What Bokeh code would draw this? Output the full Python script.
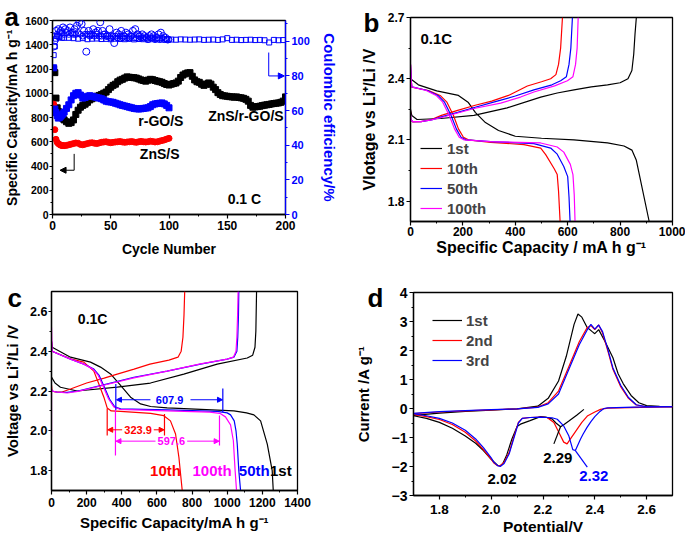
from bokeh.plotting import figure
from bokeh.layouts import column
from bokeh.models import (Range1d, LinearAxis, FixedTicker, Arrow, NormalHead, Legend,
                          LegendItem, ColumnDataSource, GridBox, PrintfTickFormatter)
from bokeh.core.properties import value
from bokeh.embed import file_html
from bokeh.resources import INLINE

FONT = "Liberation Sans"
BLK, RED, BLU, MAG = "#000000", "#ff0000", "#0000ff", "#ff00ff"

# ---------------- panel a data ----------------
a_cyc_long = list(range(1, 11)) + list(range(12, 201, 2))
a_znsrgo = [1200, 1170, 960, 880, 850, 825, 810, 800, 790, 780,
            765, 752, 758, 780, 825, 860, 885, 900, 910, 925,
            945, 955, 965, 975, 982, 990, 1000, 1010, 1030, 1050,
            1065, 1075, 1095, 1108, 1115, 1125, 1135, 1132, 1130, 1128,
            1125, 1118, 1110, 1105, 1100, 1108, 1115, 1112, 1105, 1100,
            1095, 1090, 1080, 1072, 1068, 1075, 1080, 1085, 1100, 1130,
            1150, 1160, 1168, 1170, 1140, 1110, 1095, 1090, 1075, 1065,
            1075, 1085, 1075, 1050, 1030, 1005, 990, 980, 978, 975,
            972, 970, 968, 970, 965, 962, 958, 950, 935, 900,
            885, 888, 890, 893, 898, 902, 905, 908, 912, 915,
            918, 920, 925, 935, 970]
a_cyc_short = list(range(1, 11)) + list(range(12, 101, 2))
a_rgo = [1210, 870, 840, 815, 795, 800, 810, 820, 830, 845,
         875, 905, 945, 980, 1000, 1005, 985, 960, 965, 975,
         980, 975, 970, 965, 960, 955, 945, 935, 930, 928,
         925, 918, 912, 905, 900, 895, 890, 885, 880, 875,
         872, 870, 872, 875, 878, 880, 890, 905, 912, 915,
         918, 920, 912, 900, 880]
a_zns = [910, 700, 620, 595, 585, 578, 572, 570, 568, 568,
         570, 575, 580, 585, 590, 588, 578, 575, 580, 585,
         590, 592, 588, 585, 590, 595, 598, 600, 595, 592,
         595, 598, 600, 602, 598, 595, 598, 600, 602, 598,
         595, 600, 603, 600, 598, 600, 605, 602, 598, 600,
         605, 610, 615, 622, 628]
a_ce_sq_cyc = [1, 2, 3, 4, 5, 6, 8, 10] + list(range(14, 201, 4))
a_ce_sq = [92, 97, 101.5, 103, 103, 102.5, 102, 102,
           102, 101.8, 101.5, 101.8, 101.2, 101.5, 101.6, 101.3, 101.4, 101.2,
           101.5, 101.3, 101.2, 101.4, 101.1, 101.3, 101.2, 101.0, 101.2, 101.1,
           101.0, 101.2, 101.0, 100.9, 101.1, 101.0, 100.9, 101.0, 101.1, 100.8,
           100.9, 101.0, 100.8, 101.1, 101.8, 100.8, 100.9, 100.7, 100.8, 100.9,
           100.7, 100.8, 100.6, 99.3, 100.8, 100.6, 100.7]
a_ce_c1_cyc = list(range(1, 100, 2))
a_ce_c1 = [97, 106, 107, 106, 108, 107, 106, 108, 105, 107,
           109, 111, 110, 106, 94, 106, 104, 107, 105, 106,
           111, 106, 104, 103, 107, 103, 99, 105, 104, 106,
           103, 105, 104, 103, 106, 107, 104, 103, 104, 103,
           102, 103, 104, 103, 102, 104, 105, 103, 102, 101]
a_ce_c2_cyc = list(range(2, 101, 2))
a_ce_c2 = [100, 104, 105, 105, 104, 105, 104, 105, 104, 104,
           105, 104, 103, 104, 104, 103, 104, 103, 104, 103,
           103, 104, 103, 103, 102, 103, 103, 102, 103, 102,
           103, 102, 102, 103, 102, 102, 103, 102, 102, 102,
           101, 102, 102, 101, 102, 101, 102, 101, 101, 101]
a_lab_x = [93, 92, 166, 164.7]
a_lab_y = [771, 497, 812, 126]
a_lab_t = ["r-GO/S", "ZnS/S", "ZnS/r-GO/S", "0.1 C"]
a_arrk = dict(x=[18.6], ytop=[500], ybot=[365], xend=[6.5])
a_arrb = dict(x=[185.6], ytop=[93.5], ybot=[80], xend=[199])

# ---------------- panel b data ----------------
b1_dis_x = [0, 30, 100, 183, 221, 248, 286, 336, 400, 500, 624, 752, 815, 845, 862, 911]
b1_dis_y = [2.40, 2.37, 2.34, 2.318, 2.283, 2.234, 2.185, 2.146, 2.118, 2.108, 2.10, 2.085, 2.07, 2.05, 2.0, 1.70]
b1_chg_x = [0, 5, 25, 115, 242, 369, 497, 560, 624, 690, 752, 800, 830, 845, 852, 857, 862]
b1_chg_y = [2.25, 2.22, 2.20, 2.205, 2.22, 2.257, 2.31, 2.33, 2.345, 2.36, 2.37, 2.38, 2.40, 2.44, 2.52, 2.62, 2.70]
b10_dis_x = [0, 3, 5, 69, 113, 139, 164, 183, 202, 221, 306, 433, 497, 516, 548, 560, 565, 571]
b10_dis_y = [2.47, 2.39, 2.358, 2.342, 2.318, 2.285, 2.22, 2.154, 2.113, 2.10, 2.088, 2.077, 2.06, 2.028, 1.96, 1.93, 1.85, 1.70]
b50_dis_x = [0, 3, 5, 65, 105, 130, 155, 175, 193, 212, 306, 471, 535, 560, 585, 600, 605, 609]
b50_dis_y = [2.47, 2.39, 2.36, 2.342, 2.318, 2.285, 2.22, 2.154, 2.113, 2.10, 2.092, 2.082, 2.06, 2.03, 1.97, 1.92, 1.82, 1.70]
b100_dis_x = [0, 3, 5, 60, 98, 123, 148, 168, 186, 205, 306, 497, 560, 585, 610, 620, 625, 628]
b100_dis_y = [2.47, 2.39, 2.36, 2.342, 2.318, 2.285, 2.22, 2.154, 2.113, 2.10, 2.092, 2.085, 2.065, 2.04, 1.98, 1.93, 1.83, 1.70]
b10_chg_x = [0, 1, 8, 40, 80, 118, 180, 247, 310, 374, 446, 500, 535, 555, 565, 573, 580]
b10_chg_y = [2.24, 2.20, 2.188, 2.19, 2.20, 2.22, 2.245, 2.27, 2.29, 2.318, 2.364, 2.385, 2.40, 2.42, 2.47, 2.55, 2.70]
b50_chg_x = [0, 1, 8, 40, 80, 118, 180, 247, 331, 400, 471, 540, 573, 595, 605, 612, 618]
b50_chg_y = [2.23, 2.20, 2.19, 2.19, 2.198, 2.213, 2.235, 2.26, 2.29, 2.315, 2.345, 2.37, 2.39, 2.41, 2.47, 2.55, 2.70]
b100_chg_x = [0, 1, 8, 40, 80, 118, 180, 247, 344, 420, 471, 550, 599, 620, 630, 636, 640]
b100_chg_y = [2.22, 2.20, 2.19, 2.19, 2.198, 2.21, 2.232, 2.255, 2.28, 2.31, 2.335, 2.365, 2.39, 2.41, 2.47, 2.55, 2.70]
b_legend = ["1st", "10th", "50th", "100th"]

# ---------------- panel c data ----------------
c1_dis_x = [0, 4, 108, 222, 279, 336, 393, 450, 507, 564, 658, 850, 1038, 1110, 1152, 1190, 1228, 1256, 1262]
c1_dis_y = [2.45, 2.42, 2.37, 2.345, 2.32, 2.286, 2.228, 2.169, 2.135, 2.122, 2.115, 2.108, 2.10, 2.09, 2.08, 2.05, 1.933, 1.80, 1.70]
c1_chg_x = [0, 20, 51, 146, 374, 563, 753, 943, 1114, 1145, 1158, 1163, 1167]
c1_chg_y = [2.27, 2.24, 2.219, 2.20, 2.219, 2.24, 2.285, 2.335, 2.366, 2.38, 2.42, 2.50, 2.70]
c10_dis_x = [0, 3, 108, 184, 241, 269, 298, 317, 340, 393, 564, 639, 677, 706, 725, 744]
c10_dis_y = [2.45, 2.40, 2.362, 2.345, 2.30, 2.236, 2.169, 2.115, 2.10, 2.098, 2.088, 2.076, 2.05, 1.984, 1.867, 1.70]
c10_chg_x = [0, 3, 20, 60, 108, 200, 300, 374, 470, 560, 668, 720, 738, 748, 754, 758]
c10_chg_y = [2.23, 2.20, 2.195, 2.195, 2.21, 2.24, 2.265, 2.285, 2.31, 2.335, 2.355, 2.37, 2.40, 2.47, 2.58, 2.70]
c50_dis_x = [0, 3, 108, 184, 241, 270, 298, 330, 360, 393, 658, 943, 1000, 1019, 1040, 1050, 1057, 1066, 1076]
c50_dis_y = [2.45, 2.40, 2.36, 2.335, 2.31, 2.28, 2.225, 2.16, 2.12, 2.11, 2.105, 2.098, 2.09, 2.08, 2.05, 2.0, 1.934, 1.80, 1.70]
c100_dis_x = [0, 3, 108, 184, 236, 265, 293, 325, 355, 388, 658, 900, 958, 990, 1019, 1035, 1045, 1053]
c100_dis_y = [2.52, 2.40, 2.36, 2.335, 2.31, 2.28, 2.225, 2.16, 2.12, 2.108, 2.10, 2.094, 2.088, 2.07, 2.03, 1.95, 1.80, 1.70]
c50_chg_x = [0, 2, 30, 89, 150, 279, 469, 658, 848, 1000, 1038, 1055, 1060, 1064, 1066]
c50_chg_y = [2.21, 2.20, 2.195, 2.193, 2.20, 2.227, 2.269, 2.30, 2.335, 2.36, 2.37, 2.40, 2.47, 2.58, 2.70]
c100_chg_x = [0, 0, 2, 30, 89, 150, 279, 469, 658, 848, 1000, 1035, 1050, 1055, 1059, 1062]
c100_chg_y = [1.97, 2.21, 2.20, 2.195, 2.19, 2.198, 2.225, 2.266, 2.30, 2.336, 2.36, 2.37, 2.40, 2.47, 2.58, 2.70]
c_bar_blu = dict(x=[366, 975], y0=[2.235, 2.213], y1=[2.105, 2.094])
c_bar_red = dict(x=[317, 643], y0=[2.112, 2.085], y1=[1.976, 1.976])
c_bar_mag = dict(x=[364, 956], y0=[2.105, 2.077], y1=[1.876, 1.926])
c_arr_blu = dict(x0=[563, 791], x1=[370, 973], y=[2.156, 2.156])
c_arr_red = dict(x0=[402, 582], x1=[320, 641], y=[2.005, 2.005])
c_arr_mag = dict(x0=[592, 772], x1=[367, 954], y=[1.948, 1.948])
c_num = dict(x=[672, 493, 682], y=[2.156, 2.005, 1.948], t=["607.9", "323.9", "597.6"], c=[BLU, RED, MAG])
c_lab = dict(x=[649, 914, 1154, 1305], y=[1.80, 1.80, 1.80, 1.80], t=["10th", "100th", "50th", "1st"], c=[RED, MAG, BLU, BLK])

# ---------------- panel d data ----------------
d1_an_x = [1.70, 1.80, 1.90, 2.00, 2.10, 2.18, 2.22, 2.26, 2.29, 2.32, 2.335, 2.35, 2.37, 2.39, 2.40, 2.415, 2.44, 2.47, 2.49, 2.51, 2.54, 2.57, 2.60, 2.65, 2.70]
d1_an_y = [-0.24, -0.16, -0.1, -0.06, -0.01, 0.08, 0.35, 0.95, 1.8, 2.9, 3.26, 3.15, 2.8, 2.65, 2.58, 2.72, 2.3, 1.75, 1.2, 0.85, 0.45, 0.2, 0.1, 0.07, 0.06]
d23_an_x = [1.70, 1.80, 1.90, 2.00, 2.10, 2.18, 2.22, 2.26, 2.30, 2.34, 2.37, 2.385, 2.40, 2.415, 2.43, 2.45, 2.47, 2.50, 2.53, 2.56, 2.60, 2.70]
d2_an_y = [-0.18, -0.12, -0.08, -0.05, -0.01, 0.05, 0.2, 0.6, 1.45, 2.3, 2.78, 2.86, 2.72, 2.88, 2.6, 2.0, 1.35, 0.75, 0.35, 0.12, 0.06, 0.06]
d3_an_y = [-0.17, -0.11, -0.07, -0.04, -0.01, 0.04, 0.16, 0.5, 1.35, 2.2, 2.7, 2.9, 2.74, 2.88, 2.65, 2.05, 1.4, 0.8, 0.38, 0.13, 0.06, 0.06]
d1_ca_x = [2.358, 2.33, 2.30, 2.28, 2.268, 2.25, 2.235, 2.21, 2.19, 2.15, 2.113, 2.10, 2.08, 2.06, 2.045, 2.035, 2.025, 2.00, 1.97, 1.94, 1.90, 1.85, 1.80, 1.75, 1.70]
d1_ca_y = [-0.03, -0.23, -0.43, -0.56, -0.63, -0.5, -0.36, -0.3, -0.28, -0.42, -0.54, -0.62, -1.05, -1.6, -1.9, -1.97, -1.96, -1.75, -1.45, -1.2, -0.95, -0.68, -0.48, -0.34, -0.25]
d2_ca_x = [2.70, 2.576, 2.45, 2.422, 2.40, 2.371, 2.35, 2.332, 2.306, 2.293, 2.28, 2.261, 2.242, 2.216, 2.19, 2.15, 2.12, 2.105, 2.09, 2.07, 2.05, 2.035, 2.025, 2.01, 2.00, 1.97, 1.94, 1.90, 1.85, 1.80, 1.75, 1.70]
d2_ca_y = [0.06, 0.04, 0.01, -0.03, -0.12, -0.26, -0.48, -0.71, -1.05, -1.22, -1.16, -0.82, -0.48, -0.31, -0.3, -0.31, -0.34, -0.48, -0.9, -1.5, -1.85, -1.97, -1.97, -1.88, -1.75, -1.42, -1.12, -0.82, -0.55, -0.38, -0.28, -0.2]
d3_ca_x = [2.70, 2.55, 2.45, 2.435, 2.42, 2.40, 2.385, 2.37, 2.355, 2.345, 2.335, 2.325, 2.315, 2.30, 2.28, 2.255, 2.235, 2.216, 2.19, 2.15, 2.12, 2.105, 2.09, 2.07, 2.05, 2.035, 2.025, 2.01, 2.00, 1.97, 1.94, 1.90, 1.85, 1.80, 1.75, 1.70]
d3_ca_y = [0.06, 0.05, 0.02, 0.0, -0.1, -0.28, -0.45, -0.65, -0.88, -1.05, -1.25, -1.45, -1.42, -0.95, -0.6, -0.37, -0.32, -0.31, -0.3, -0.31, -0.34, -0.5, -0.95, -1.55, -1.9, -2.0, -1.97, -1.85, -1.7, -1.35, -1.05, -0.75, -0.5, -0.34, -0.25, -0.18]
d_ptr = dict(x0=[2.242, 2.325], y0=[-1.22, -1.45], x1=[2.268, 2.371], y1=[-0.62, -2.02], c=[BLK, BLU])
d_num = dict(x=[2.042, 2.257, 2.396], y=[-2.43, -1.69, -2.32], t=["2.02", "2.29", "2.32"], c=[BLK, BLK, BLU])
d_legend = ["1st", "2nd", "3rd"]

# panel letters (page pixel position of each letter's left end / baseline)
let_t = ["a", "b", "c", "d"]
let_x = [4, 363, 7, 367]
let_y = [16, 22, 297, 297]


def unalign(p):
    if "frame_align" in p.properties():
        p.frame_align = False
    return p


def mkfig(w, h, xr, yr, ml, mr, mt, mb):
    p = figure(width=w, height=h, x_range=Range1d(*xr), y_range=Range1d(*yr),
               output_backend="svg", toolbar_location=None,
               min_border_left=ml, min_border_right=mr,
               min_border_top=mt, min_border_bottom=mb)
    p.xgrid.visible = False
    p.ygrid.visible = False
    p.outline_line_color = "black"
    p.outline_line_width = 1.3
    p.outline_line_alpha = 1
    return unalign(p)


def style_axis(ax, ticks, minor, tsize, lsize, tstand, lstand, color=BLK, fmt=None, tout=4):
    ax.ticker = FixedTicker(ticks=ticks, minor_ticks=minor)
    if fmt:
        ax.formatter = PrintfTickFormatter(format=fmt)
    ax.major_label_text_font = FONT
    ax.major_label_text_font_style = "bold"
    ax.major_label_text_font_size = tsize
    ax.major_label_text_color = color
    ax.axis_label_text_font = FONT
    ax.axis_label_text_font_style = "bold"
    ax.axis_label_text_font_size = lsize
    ax.axis_label_text_color = color
    ax.axis_line_color = color
    ax.axis_line_width = 1.3
    ax.major_tick_line_color = color
    ax.minor_tick_line_color = color
    ax.major_tick_line_width = 1.2
    ax.minor_tick_line_width = 1
    ax.major_tick_out = tout
    ax.major_tick_in = 0
    ax.minor_tick_out = 2
    ax.minor_tick_in = 0
    ax.major_label_standoff = tstand
    ax.axis_label_standoff = lstand


def texts(p, src, size, align="center", baseline="middle", **kw):
    p.text(x="x", y="y", text="t", source=ColumnDataSource(src), text_color="c",
           text_font=value(FONT), text_font_style="bold", text_font_size=value(size),
           text_align=align, text_baseline=baseline, **kw)


def fr(lo, step, n):
    return [round(lo + i * step, 4) for i in range(n)]

# ================= panel a =================
pa = mkfig(340, 270, (0, 200), (0, 1600), 52, 52, 20, 56)
pa.extra_y_ranges = {"ce": Range1d(0, 112)}
pa.xaxis.axis_label = "Cycle Number"
pa.yaxis.axis_label = "Specific Capacity/mA h g\u207b\u00b9"
style_axis(pa.xaxis[0], fr(0, 50, 5), fr(25, 50, 4), "12px", "14px", 2, 8)
style_axis(pa.yaxis[0], fr(0, 200, 9), fr(100, 200, 8), "10.5px", "14px", 1, 2, tout=3)
ra = LinearAxis(y_range_name="ce", axis_label="Coulombic efficiency/%")
pa.add_layout(ra, "right")
style_axis(ra, fr(0, 20, 6), fr(10, 20, 6), "11px", "15px", 2, 8, color=BLU)

pa.scatter(a_cyc_long, a_znsrgo, marker="square", size=6, color=BLK)
pa.scatter(a_cyc_short, a_zns, marker="circle", size=6, color=RED)
pa.scatter(a_cyc_short, a_rgo, marker="square", size=6, color=BLU)
pa.scatter(a_ce_sq_cyc, a_ce_sq, marker="square", size=5, fill_color=None, line_color=BLU, line_width=1, y_range_name="ce")
pa.scatter(a_ce_c2_cyc, a_ce_c2, marker="circle", size=6, fill_color=None, line_color=BLU, line_width=1, y_range_name="ce")
pa.scatter(a_ce_c1_cyc, a_ce_c1, marker="circle", size=7, fill_color=None, line_color=BLU, line_width=1, y_range_name="ce")
pa.segment(x0=a_arrk["x"], y0=a_arrk["ytop"], x1=a_arrk["x"], y1=a_arrk["ybot"], line_color=BLK, line_width=1)
pa.add_layout(Arrow(end=NormalHead(size=6, fill_color=BLK, line_color=BLK),
                    x_start=a_arrk["x"][0], y_start=a_arrk["ybot"][0],
                    x_end=a_arrk["xend"][0], y_end=a_arrk["ybot"][0], line_color=BLK, line_width=1))
pa.segment(x0=a_arrb["x"], y0=a_arrb["ytop"], x1=a_arrb["x"], y1=a_arrb["ybot"], line_color=BLU, line_width=1, y_range_name="ce")
pa.add_layout(Arrow(end=NormalHead(size=6, fill_color=BLU, line_color=BLU),
                    x_start=a_arrb["x"][0], y_start=a_arrb["ybot"][0],
                    x_end=a_arrb["xend"][0], y_end=a_arrb["ybot"][0], line_color=BLU, line_width=1,
                    y_range_name="ce"))
texts(pa, dict(x=a_lab_x, y=a_lab_y, t=a_lab_t, c=[BLK] * 4), "14px")

# ================= panel b =================
pb = mkfig(345, 270, (0, 1000), (1.7, 2.7), 70, 13, 17, 49)
pb.xaxis.axis_label = "Specific Capacity / mA h g\u207b\u00b9"
pb.yaxis.axis_label = "Vlotage vs Li\u207a/Li /V"
style_axis(pb.xaxis[0], fr(0, 200, 6), fr(100, 200, 5), "12px", "16px", 1, 0)
style_axis(pb.yaxis[0], [1.8, 2.1, 2.4, 2.7], [1.95, 2.25, 2.55], "12px", "16px", 2, 7, fmt="%.1f")
rb = []
for xs, ys, xc, yc, col in [(b1_dis_x, b1_dis_y, b1_chg_x, b1_chg_y, BLK),
                            (b10_dis_x, b10_dis_y, b10_chg_x, b10_chg_y, RED),
                            (b50_dis_x, b50_dis_y, b50_chg_x, b50_chg_y, BLU),
                            (b100_dis_x, b100_dis_y, b100_chg_x, b100_chg_y, MAG)]:
    r = pb.line(xs, ys, line_color=col, line_width=1.2)
    pb.line(xc, yc, line_color=col, line_width=1.2)
    rb.append(r)
legb = Legend(items=[LegendItem(label=l, renderers=[r]) for l, r in zip(b_legend, rb)],
              location=(10, 3), glyph_width=22, glyph_height=20, label_height=20, spacing=0,
              padding=0, margin=0, label_standoff=5, border_line_color=None,
              background_fill_alpha=0, label_text_font=FONT, label_text_font_style="bold",
              label_text_font_size="15px")
pb.add_layout(legb)
texts(pb, dict(x=[38], y=[2.597], t=["0.1C"], c=[BLK]), "15px", align="left")

# ================= panel c =================
pc = mkfig(340, 268, (0, 1400), (1.7, 2.7), 51, 43, 21, 48)
pc.xaxis.axis_label = "Specific Capacity/mA h g\u207b\u00b9"
pc.yaxis.axis_label = "Voltage vs Li\u207a/Li /V"
style_axis(pc.xaxis[0], fr(0, 200, 8), fr(100, 200, 7), "12px", "15px", 3, 4)
style_axis(pc.yaxis[0], [1.8, 2.0, 2.2, 2.4, 2.6], [1.9, 2.1, 2.3, 2.5], "12.5px", "15px", 1, 6, fmt="%.1f", tout=3)
for xs, ys, col in [(c1_dis_x, c1_dis_y, BLK), (c1_chg_x, c1_chg_y, BLK),
                    (c10_dis_x, c10_dis_y, RED), (c10_chg_x, c10_chg_y, RED),
                    (c50_dis_x, c50_dis_y, BLU), (c50_chg_x, c50_chg_y, BLU),
                    (c100_dis_x, c100_dis_y, MAG), (c100_chg_x, c100_chg_y, MAG)]:
    pc.line(xs, ys, line_color=col, line_width=1.2)
for bar, arr, col in [(c_bar_blu, c_arr_blu, BLU), (c_bar_red, c_arr_red, RED), (c_bar_mag, c_arr_mag, MAG)]:
    pc.segment(x0="x", y0="y0", x1="x", y1="y1", source=ColumnDataSource(bar), line_color=col, line_width=1.2)
    pc.add_layout(Arrow(end=NormalHead(size=5, fill_color=col, line_color=col),
                        source=ColumnDataSource(arr), x_start="x0", y_start="y", x_end="x1", y_end="y",
                        line_color=col, line_width=1))
texts(pc, c_num, "11px")
texts(pc, c_lab, "15px")
texts(pc, dict(x=[150], y=[2.563], t=["0.1C"], c=[BLK]), "14px", align="left")

# ================= panel d =================
pd_ = mkfig(345, 268, (1.7, 2.7), (-3, 4), 73, 13, 22, 43)
pd_.xaxis.axis_label = "Potential/V"
pd_.yaxis.axis_label = "Current /A g\u207b\u00b9"
style_axis(pd_.xaxis[0], [1.8, 2.0, 2.2, 2.4, 2.6], [1.9, 2.1, 2.3, 2.5], "13.5px", "15.5px", 5, 1, fmt="%.1f")
style_axis(pd_.yaxis[0], fr(-3, 1, 8), fr(-2.5, 1, 7), "14px", "15px", 2, 17)
rd = []
for xa, ya, xc, yc, col in [(d1_an_x, d1_an_y, d1_ca_x, d1_ca_y, BLK),
                            (d23_an_x, d2_an_y, d2_ca_x, d2_ca_y, RED),
                            (d23_an_x, d3_an_y, d3_ca_x, d3_ca_y, BLU)]:
    r = pd_.line(xa, ya, line_color=col, line_width=1.2)
    pd_.line(xc, yc, line_color=col, line_width=1.2)
    rd.append(r)
pd_.segment(x0="x0", y0="y0", x1="x1", y1="y1", line_color="c", source=ColumnDataSource(d_ptr), line_width=1.2)
texts(pd_, d_num, "15px")
legd = Legend(items=[LegendItem(label=l, renderers=[r]) for l, r in zip(d_legend, rd)],
              location=(19, 125), glyph_width=30, glyph_height=20, label_height=20, spacing=0,
              padding=0, margin=0, label_standoff=4, border_line_color=None,
              background_fill_alpha=0, label_text_font=FONT, label_text_font_style="bold",
              label_text_font_size="15px")
pd_.add_layout(legd)

# ================= transparent overlay carrying the panel letters =================
ov = figure(width=685, height=538, x_range=Range1d(0, 685), y_range=Range1d(538, 0),
            x_axis_type=None, y_axis_type=None, output_backend="svg", toolbar_location=None,
            min_border_left=0, min_border_right=0, min_border_top=0, min_border_bottom=0)
unalign(ov)
ov.xgrid.visible = False
ov.ygrid.visible = False
ov.outline_line_color = None
ov.background_fill_alpha = 0
ov.border_fill_alpha = 0
texts(ov, dict(x=let_x, y=let_y, t=let_t, c=[BLK] * 4), "26px", align="left", baseline="alphabetic")

figs = [pa, pb, pc, pd_, ov]
if "frame_align" in pa.properties():
    kids = figs
else:
    kids = [column(f) for f in figs]
layout = GridBox(children=[(kids[0], 0, 0), (kids[1], 0, 1), (kids[2], 1, 0), (kids[3], 1, 1),
                           (kids[4], 0, 0, 2, 2)], spacing=0)
open("out.html", "w").write(file_html(layout, INLINE))
